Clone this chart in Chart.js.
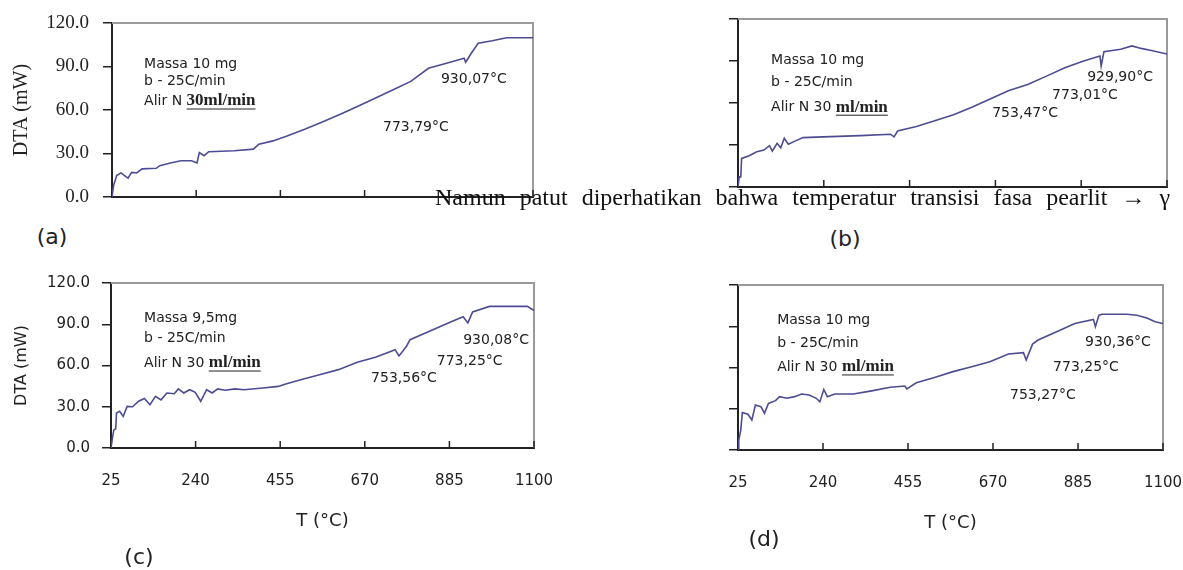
<!DOCTYPE html>
<html>
<head>
<meta charset="utf-8">
<script src="https://cdn.jsdelivr.net/npm/chart.js@4.4.0/dist/chart.umd.min.js"></script>
<style>
  body { margin: 0; background: #fff; width: 1183px; height: 570px; overflow: hidden; position: relative; }
  canvas { position: absolute; }
  .tag { position: absolute; font-family: 'DejaVu Sans'; font-size: 22px; color: #222; transform: translate(-50%, -50%); }
  .para { position: absolute; left: 435px; top: 185px; font-family: 'Liberation Serif'; font-size: 24px; line-height: 24px; word-spacing: 8px; white-space: nowrap; color: #111; }
</style>
</head>
<body>
<canvas id="chartA" width="560" height="215" style="left:0px;top:0px"></canvas>
<canvas id="chartB" width="583" height="215" style="left:600px;top:0px"></canvas>
<canvas id="chartC" width="560" height="300" style="left:0px;top:270px"></canvas>
<canvas id="chartD" width="583" height="300" style="left:600px;top:270px"></canvas>
<div class="para">Namun patut diperhatikan bahwa temperatur transisi fasa pearlit → γ</div>
<div class="tag" style="left:52px;top:236px">(a)</div>
<div class="tag" style="left:845px;top:238px">(b)</div>
<div class="tag" style="left:139px;top:556px">(c)</div>
<div class="tag" style="left:764px;top:538px">(d)</div>
<script>
// tick labels shared by all panels
let tempTicks = [25, 240, 455, 670, 885, 1100];
let dtaTicks = [0, 30, 60, 90, 120];

// (a) Massa 10 mg
let tempA = [25, 29, 37, 48, 57, 66, 75, 88, 102, 138, 147, 174, 201, 228, 242, 248, 260, 272, 337, 386, 400, 436, 472, 517, 562, 608, 653, 698, 743, 788, 833, 879, 915, 924, 928, 942, 960, 996, 1032, 1100];
let dtaA = [0, 8, 14.8, 16.6, 14.8, 13, 17, 16.6, 19.4, 19.8, 21.6, 23.5, 25, 25, 23.5, 30.7, 28.5, 31.2, 31.9, 33, 36.4, 38.7, 42.1, 46.7, 51.7, 57, 62.6, 68.3, 74, 79.7, 88.8, 92.3, 95, 95.7, 93, 99, 106, 107.7, 109.8, 109.8];

// (b) Massa 10 mg
let tempB = [25, 28, 32, 34, 53, 72, 90, 104, 111, 123, 132, 141, 151, 165, 188, 239, 332, 407, 416, 425, 472, 518, 565, 611, 658, 704, 751, 798, 844, 891, 932, 935, 942, 984, 1012, 1035, 1058, 1100];
let dtaB = [0, 7.2, 7.2, 20.4, 22.3, 25.2, 26.4, 29.5, 25.7, 31.2, 28, 34.8, 30.5, 32.4, 35.3, 35.8, 36.7, 37.7, 35.8, 40, 43.2, 47.3, 51.6, 56.9, 63.1, 68.9, 73.2, 79.2, 85.2, 90, 93.6, 86.4, 96.7, 98.4, 100.8, 99, 97.7, 95];

// (c) Massa 9,5 mg
let tempC = [25, 28, 32, 37, 39, 47, 56, 66, 80, 95, 110, 124, 138, 152, 167, 186, 196, 210, 225, 239, 253, 268, 282, 296, 315, 340, 363, 411, 450, 469, 507, 555, 603, 651, 699, 747, 757, 776, 785, 843, 891, 920, 932, 944, 987, 1083, 1100];
let dtaC = [0, 6, 13, 14, 25.5, 26.7, 23, 30.3, 30, 34, 36, 31.5, 37.6, 35, 40, 39.5, 43, 40, 42.4, 40.5, 34, 42.4, 40, 43, 42, 43, 42.4, 43.6, 44.8, 46.5, 49.7, 53.3, 57, 62.3, 66.2, 71.5, 67, 74, 78.8, 86, 92, 95.5, 91, 99, 103, 103, 100];

// (d) Massa 10 mg
let tempD = [25, 27, 32, 36, 50, 60, 69, 83, 92, 102, 120, 130, 149, 168, 186, 205, 223, 232, 242, 251, 270, 317, 363, 410, 447, 452, 476, 522, 569, 616, 662, 709, 747, 754, 770, 784, 831, 877, 924, 929, 938, 946, 1008, 1034, 1059, 1080, 1100];
let dtaD = [0, 7.3, 14.5, 27.2, 26, 21.8, 32.7, 31.5, 26.7, 33.9, 35.9, 38.8, 37.6, 38.8, 40.7, 40, 37.6, 35, 44, 38.8, 40.7, 40.7, 43, 45.6, 46.5, 44.5, 48.9, 52.8, 57, 60.6, 64.2, 69.8, 70.8, 65.5, 77, 80, 86, 92, 95, 89.7, 98, 98.7, 98.7, 98, 96, 93.3, 92];

let lineColor = '#4c4c94';
let inkColor = '#222';

// gray frame on top/right, inward x ticks and the text notes
let framePlugin = {
  id: 'frame',
  beforeDatasetsDraw(chart) {
    let ctx = chart.ctx;
    let area = chart.chartArea;
    let x = chart.scales.x;
    ctx.save();
    ctx.strokeStyle = '#9a9a9a';
    ctx.lineWidth = 2;
    ctx.beginPath();
    ctx.moveTo(area.left, area.top);
    ctx.lineTo(area.right, area.top);
    ctx.lineTo(area.right, area.bottom);
    ctx.stroke();
    ctx.strokeStyle = inkColor;
    ctx.lineWidth = 1.5;
    x.ticks.forEach(t => {
      let px = x.getPixelForValue(t.value);
      ctx.beginPath();
      ctx.moveTo(px, area.bottom);
      ctx.lineTo(px, area.bottom - 7);
      ctx.stroke();
    });
    ctx.restore();
  },
  afterDraw(chart, args, opts) {
    let ctx = chart.ctx;
    let x = chart.scales.x;
    let y = chart.scales.y;
    ctx.save();
    ctx.fillStyle = inkColor;
    ctx.strokeStyle = inkColor;
    ctx.textBaseline = 'middle';
    (opts.notes || []).forEach(n => {
      let px = x.getPixelForValue(n.t);
      let py = y.getPixelForValue(n.v);
      ctx.font = '14px "DejaVu Sans"';
      ctx.fillText(n.text, px, py);
      if (n.unit) {
        let w = ctx.measureText(n.text).width;
        ctx.font = 'bold 17px "Liberation Serif"';
        ctx.fillText(n.unit, px + w, py);
        let uw = ctx.measureText(n.unit).width;
        ctx.lineWidth = 1;
        ctx.beginPath();
        ctx.moveTo(px + w, py + 8);
        ctx.lineTo(px + w + uw, py + 8);
        ctx.stroke();
      }
    });
    ctx.restore();
  }
};

function makePanel(id, temps, values, setup) {
  let ctx = document.getElementById(id).getContext('2d');
  let points = temps.map((t, i) => ({ x: t, y: values[i] }));
  return new Chart(ctx, {
    type: 'line',
    data: {
      datasets: [{
        data: points,
        borderColor: lineColor,
        borderWidth: 1.6,
        pointRadius: 0,
        tension: 0,
        fill: false
      }]
    },
    options: {
      responsive: false,
      animation: false,
      devicePixelRatio: 1,
      layout: { padding: setup.padding },
      plugins: {
        legend: { display: false },
        tooltip: { enabled: false },
        frame: { notes: setup.notes }
      },
      scales: {
        x: {
          type: 'linear',
          min: 25,
          max: 1100,
          afterBuildTicks: s => { s.ticks = tempTicks.map(v => ({ value: v })); },
          afterFit: s => {
            s.height = setup.xHeight;
            s.paddingLeft = 0;
            s.paddingRight = 0;
          },
          border: { color: inkColor, width: 2 },
          grid: { display: false, drawTicks: false },
          ticks: {
            display: setup.xLabels,
            autoSkip: false,
            maxRotation: 0,
            padding: 24,
            color: inkColor,
            font: { family: 'DejaVu Sans', size: 15 },
            callback: v => String(v)
          },
          title: {
            display: setup.xLabels,
            text: 'T (°C)',
            color: inkColor,
            font: { family: 'DejaVu Sans', size: 18 },
            padding: { top: 0, bottom: 6 }
          }
        },
        y: {
          min: 0,
          max: 120,
          afterBuildTicks: s => { s.ticks = dtaTicks.map(v => ({ value: v })); },
          afterFit: s => {
            s.width = setup.yWidth;
            s.paddingTop = 0;
            s.paddingBottom = 0;
          },
          border: { color: inkColor, width: 2 },
          grid: { drawOnChartArea: false, drawTicks: true, tickLength: 9, color: inkColor, lineWidth: 1.5 },
          ticks: {
            display: !!setup.yTitle,
            padding: setup.yPad || 12,
            color: inkColor,
            font: setup.tickFont,
            callback: v => v.toFixed(1)
          },
          title: {
            display: !!setup.yTitle,
            text: setup.yTitle,
            color: inkColor,
            font: setup.titleFont,
            padding: { top: setup.yTitlePad || 0, bottom: 0 }
          }
        }
      }
    },
    plugins: [framePlugin]
  });
}

makePanel('chartA', tempA, dtaA, {
  padding: { left: 0, top: 23, right: 27, bottom: 8 },
  yWidth: 112, xHeight: 10, xLabels: false,
  yTitle: 'DTA (mW)', yTitlePad: 10, yPad: 14,
  tickFont: { family: 'Liberation Serif', size: 19 },
  titleFont: { family: 'Liberation Serif', size: 20 },
  notes: [
    { text: 'Massa 10 mg', t: 107, v: 91.7 },
    { text: 'b - 25C/min', t: 107, v: 80 },
    { text: 'Alir N ', unit: '30ml/min', t: 107, v: 66.2 },
    { text: '930,07°C', t: 865, v: 81.4 },
    { text: '773,79°C', t: 717, v: 48.3 }
  ]
});

makePanel('chartB', tempB, dtaB, {
  padding: { left: 0, top: 19, right: 16, bottom: 18 },
  yWidth: 138, xHeight: 10, xLabels: false,
  notes: [
    { text: 'Massa 10 mg', t: 108, v: 90.7 },
    { text: 'b - 25C/min', t: 108, v: 75 },
    { text: 'Alir N 30 ', unit: 'ml/min', t: 108, v: 57 },
    { text: '753,47°C', t: 662, v: 52.9 },
    { text: '773,01°C', t: 812, v: 65.7 },
    { text: '929,90°C', t: 900, v: 78.6 }
  ]
});

makePanel('chartC', tempC, dtaC, {
  padding: { left: 0, top: 13, right: 26, bottom: 32 },
  yWidth: 111, xHeight: 90, xLabels: true,
  yTitle: 'DTA (mW)', yTitlePad: 12, yPad: 12,
  tickFont: { family: 'DejaVu Sans', size: 15 },
  titleFont: { family: 'DejaVu Sans', size: 16 },
  notes: [
    { text: 'Massa 9,5mg', t: 109, v: 94.5 },
    { text: 'b - 25C/min', t: 109, v: 80 },
    { text: 'Alir N 30 ', unit: 'ml/min', t: 109, v: 61.8 },
    { text: '753,56°C', t: 686, v: 50.9 },
    { text: '773,25°C', t: 853, v: 63.3 },
    { text: '930,08°C', t: 920, v: 78.5 }
  ]
});

makePanel('chartD', tempD, dtaD, {
  padding: { left: 0, top: 15, right: 20, bottom: 30 },
  yWidth: 138, xHeight: 90, xLabels: true,
  notes: [
    { text: 'Massa 10 mg', t: 124, v: 94.5 },
    { text: 'b - 25C/min', t: 124, v: 77.8 },
    { text: 'Alir N 30 ', unit: 'ml/min', t: 124, v: 60.4 },
    { text: '753,27°C', t: 713, v: 40 },
    { text: '773,25°C', t: 822, v: 60.4 },
    { text: '930,36°C', t: 903, v: 78.5 }
  ]
});
</script>
</body>
</html>
